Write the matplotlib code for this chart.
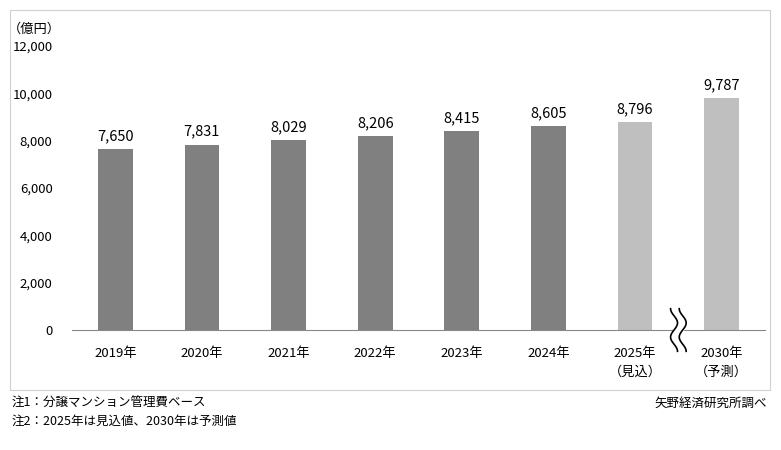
import matplotlib
matplotlib.use("Agg")
import matplotlib.pyplot as plt
import numpy as np
from matplotlib.patches import Rectangle

plt.rcParams['font.family'] = ['Noto Sans CJK JP', 'DejaVu Sans']

categories = ["2019年", "2020年", "2021年", "2022年", "2023年", "2024年", "2025年\n（見込）", "2030年\n（予測）"]
values = [7650, 7831, 8029, 8206, 8415, 8605, 8796, 9787]
colors = ["#808080"] * 6 + ["#BFBFBF"] * 2

fig = plt.figure(figsize=(7.81, 4.50), dpi=100)
fig.patches.append(Rectangle((10/781, 1-390/450), 760/781, 380/450, transform=fig.transFigure,
                             fill=False, edgecolor="#D0D0D0", linewidth=0.8))
ax = fig.add_axes([72/781, 1-330/450, 693/781, 284/450])
x = np.arange(len(values))
ax.bar(x, values, width=0.4, color=colors)
for xi, v in zip(x, values):
    ax.text(xi, v + 250, f"{v:,}", ha="center", va="bottom", fontsize=10.5)
ax.set_xlim(-0.5, len(values) - 0.5)
ax.set_ylim(0, 12000)
ax.set_yticks(range(0, 12001, 2000))
ax.set_yticklabels([f"{t:,}" for t in range(0, 12001, 2000)], fontsize=9.5)
ax.set_xticks(x)
ax.set_xticklabels(categories, fontsize=9.5, linespacing=1.6, va="top")
ax.tick_params(axis="y", length=0, pad=14)
ax.tick_params(axis="x", length=0, pad=12)
for s in ["top", "right", "left"]:
    ax.spines[s].set_visible(False)
ax.spines["bottom"].set_color("#888888")
ax.text(-0.055, 1.035, "（億円）", transform=ax.transAxes, fontsize=9.5, ha="center", va="bottom")

# break marks
bx = 6.5
t = np.linspace(-1, 1, 50)
for dx in (-0.05, 0.05):
    ax.fill_betweenx(np.array([-1000, 1000]), bx - 0.05, bx + 0.05, color="white", clip_on=False, zorder=3)
for dx in (-0.05, 0.05):
    yy = t * 900
    xx = bx + dx + 0.04 * np.sin(t * np.pi * 1.5)
    ax.plot(xx, yy, color="black", lw=1.2, clip_on=False, zorder=4)

fig.text(12/781, 1-403/450, "注1：分譲マンション管理費ベース", fontsize=9, va="center")
fig.text(12/781, 1-421/450, "注2：2025年は見込値、2030年は予測値", fontsize=9, va="center")
fig.text(767/781, 1-403/450, "矢野経済研究所調べ", fontsize=9, va="center", ha="right")

fig.savefig("out.png", dpi=100)
